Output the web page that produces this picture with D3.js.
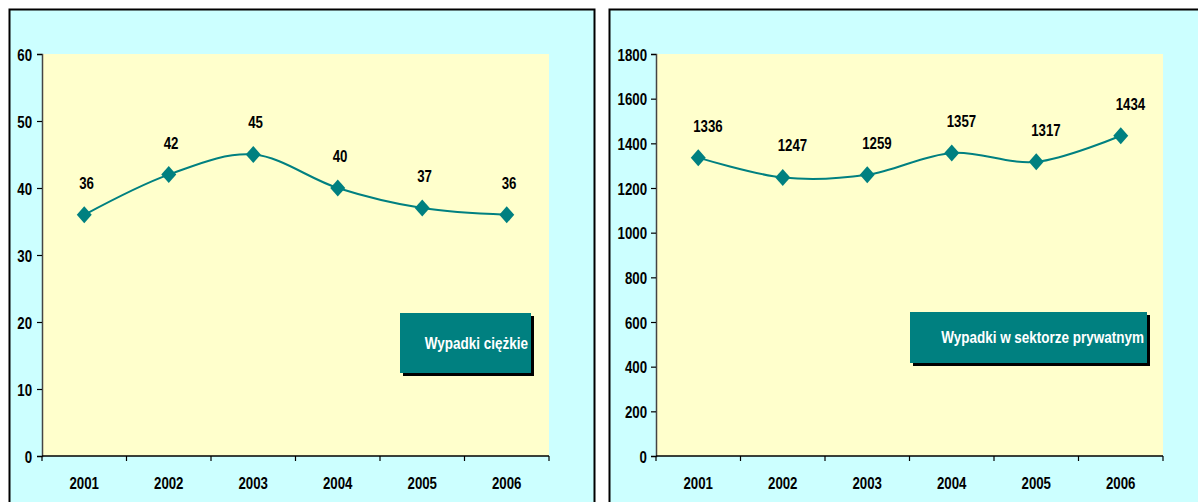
<!DOCTYPE html>
<meta charset="utf-8">
<title>Wypadki 2001-2006</title>
<script src="https://d3js.org/d3.v7.min.js"></script>
<style>
  body { margin: 0; background: #fff; }
  text { font-family: "Liberation Sans", Arial, sans-serif; font-weight: bold; }
</style>
<body>
<svg id="chart" width="1198" height="502"></svg>
<script>
// data
const years = ["2001", "2002", "2003", "2004", "2005", "2006"]
const heavyAccidents = [36, 42, 45, 40, 37, 36]
const privateSectorAccidents = [1336, 1247, 1259, 1357, 1317, 1434]
const heavyTicks = [0, 10, 20, 30, 40, 50, 60]
const privateTicks = [0, 200, 400, 600, 800, 1000, 1200, 1400, 1600, 1800]
const heavyLabel = "Wypadki ciężkie"
const privateLabel = "Wypadki w sektorze prywatnym"

const teal = "#008080"
const sx = 0.78   // the original uses a narrow font, so squeeze the text horizontally
const svg = d3.select("#chart")

// squeeze text horizontally without moving its anchor point
function squeeze(sel) {
    sel.each(function () {
        let x = +(this.getAttribute("x") || 0)
        this.setAttribute("x", x / sx)
        this.setAttribute("transform", `scale(${sx},1)`)
    })
}

function drawPanel(opt) {
    // outer frame
    svg.append("rect")
        .attr("x", opt.frame[0]).attr("y", opt.frame[1])
        .attr("width", opt.frame[2]).attr("height", opt.frame[3])
        .attr("fill", "#ccffff")
        .attr("stroke", "#000")
        .attr("stroke-width", 2)

    let x = d3.scaleBand().domain(years).range([opt.left, opt.right])
    let y = d3.scaleLinear().domain([0, d3.max(opt.ticks)]).range([456, 54])

    svg.append("rect")
        .attr("x", opt.left).attr("y", 54)
        .attr("width", opt.right - opt.left).attr("height", 402)
        .attr("fill", "#ffffcc")

    let yAxis = svg.append("g")
        .attr("transform", `translate(${opt.left},0)`)
        .call(d3.axisLeft(y).tickValues(opt.ticks).tickSize(5).tickPadding(opt.yPad).tickFormat(d3.format("d")))
    yAxis.select(".domain").attr("stroke", "#444").attr("stroke-width", 1.5)
    yAxis.selectAll(".tick line").attr("stroke-width", 1.2)
    yAxis.selectAll("text").attr("font-size", 17).attr("fill", "#000")
        .attr("font-family", null).attr("dy", "0.36em")
        .call(squeeze)

    // x axis with ticks on category boundaries
    let xg = svg.append("g").attr("transform", "translate(0,456)")
    xg.append("line")
        .attr("x1", opt.left).attr("x2", opt.right)
        .attr("stroke", "#000").attr("stroke-width", 1.5)
    let edges = years.map(d => x(d)).concat([opt.right])
    xg.selectAll("line.tick").data(edges).enter().append("line")
        .attr("class", "tick")
        .attr("x1", d => d).attr("x2", d => d)
        .attr("y1", 0).attr("y2", 5)
        .attr("stroke", "#000").attr("stroke-width", 1.2)
    xg.selectAll("text").data(years).enter().append("text")
        .attr("x", d => x(d) + x.bandwidth() / 2)
        .attr("y", 33)
        .attr("text-anchor", "middle")
        .attr("font-size", 17)
        .text(d => d)
        .call(squeeze)

    let cx = (d, i) => x(years[i]) + x.bandwidth() / 2

    let line = d3.line()
        .x(cx)
        .y(d => y(d))
        .curve(d3.curveCardinal.tension(0))
    svg.append("path")
        .attr("d", line(opt.values))
        .attr("fill", "none")
        .attr("stroke", teal)
        .attr("stroke-width", 2)

    svg.selectAll(null).data(opt.values).enter().append("path")
        .attr("d", "M0,-8.5L7.5,0L0,8.5L-7.5,0Z")
        .attr("transform", (d, i) => `translate(${cx(d, i)},${y(d)})`)
        .attr("fill", teal)

    svg.selectAll(null).data(opt.values).enter().append("text")
        .attr("x", (d, i) => cx(d, i) - 5)
        .attr("y", d => y(d) - 26)
        .attr("font-size", 17)
        .attr("fill", "#000")
        .text(d => d)
        .call(squeeze)

    // legend box
    let b = opt.box
    svg.append("rect")
        .attr("x", b[0] + 3).attr("y", b[1] + 3)
        .attr("width", b[2]).attr("height", b[3])
        .attr("fill", "#000")
    svg.append("rect")
        .attr("x", b[0]).attr("y", b[1])
        .attr("width", b[2]).attr("height", b[3])
        .attr("fill", teal)
    svg.append("text")
        .attr("x", b[0] + b[2] - 3)
        .attr("y", b[1] + b[3] / 2 + 6)
        .attr("text-anchor", "end")
        .attr("font-size", 17.3)
        .attr("fill", "#fff")
        .text(opt.label)
        .call(squeeze)
}

drawPanel({
    frame: [9.5, 9.5, 585, 500],
    left: 42, right: 549, yPad: 5,
    ticks: heavyTicks, values: heavyAccidents,
    box: [400, 313, 131, 60], label: heavyLabel
})

drawPanel({
    frame: [609.5, 9.5, 600, 500],
    left: 656, right: 1163, yPad: 4,
    ticks: privateTicks, values: privateSectorAccidents,
    box: [910, 312, 237, 51], label: privateLabel
})
</script>
</body>
